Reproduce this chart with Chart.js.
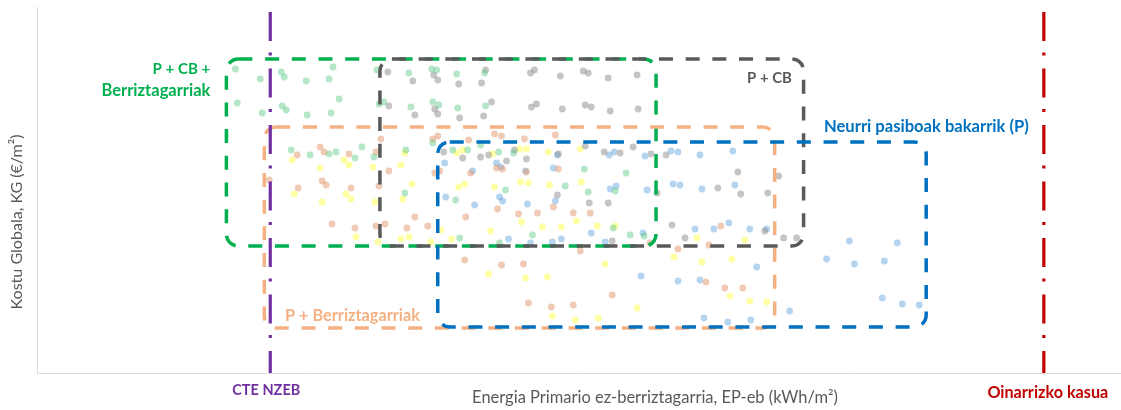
<!DOCTYPE html>
<html>
<head>
<meta charset="utf-8">
<script src="https://cdn.jsdelivr.net/npm/chart.js@4.4.1/dist/chart.umd.min.js"></script>
<style>
html,body{margin:0;padding:0;background:#fff;}
#wrap{width:1121px;height:410px;}
</style>
</head>
<body>
<div id="wrap"><canvas id="c" width="1121" height="410"></canvas></div>
<script>
// ---- Data (arbitrary units; EP on x, KG on y) ----
const greenX = [236,261,282,285,307,330,334,378,410,433,438,458,486,238,263,283,287,308,332,340,380,385,412,434,440,459,487,292,311,330,337,356,363,375,407,434,454,469,482,500,515,586,628,406,457,507,590,617,567,461,534,501,615,632,646];
const greenY = [331,321,328,323,319,321,333,330,327,331,330,326,327,297,287,294,290,285,287,301,296,298,293,298,295,292,294,250,245,246,248,242,253,243,250,257,250,250,255,248,247,231,227,207,200,210,208,209,214,162,165,157,172,165,164];

const grayX = [389,414,435,439,460,483,487,532,536,562,585,590,610,639,390,416,436,439,461,485,493,533,538,564,587,593,612,640,445,464,482,490,508,516,528,560,587,606,622,635,653,668,740,781,720,743,770,559,659,591,610,674,687,614,767,786,799];
const grayY = [328,319,325,320,316,317,330,327,330,324,329,327,322,325,294,285,291,286,282,284,298,293,296,291,295,293,289,291,248,242,243,245,239,250,241,246,254,248,247,253,246,245,228,224,212,206,207,205,207,197,197,175,162,159,169,162,162];

const orangeX = [298,321,325,350,377,382,390,270,299,323,327,352,434,439,470,496,503,526,557,441,436,472,498,504,528,560,380,333,356,377,386,408,416,429,467,499,520,539,555,575,592,466,503,525,582,530,553,575,614,723,711,680,652,708,727,745];
const orangeY = [245,253,248,246,248,261,229,220,212,219,215,212,261,264,260,266,264,261,265,229,227,227,232,231,228,231,214,176,172,174,176,172,183,174,183,191,186,187,193,187,187,140,135,136,149,97,93,95,105,174,155,151,157,118,112,112];

const yellowX = [293,321,345,350,374,406,402,413,295,347,323,352,376,404,357,379,402,410,458,464,494,521,528,550,582,460,466,496,522,530,551,583,432,442,453,492,523,544,563,578,599,617,490,527,549,607,554,577,600,639,699,676,704,734,747,732,752,769];
const yellowY = [240,232,240,235,233,247,235,216,206,206,198,201,198,201,163,158,161,163,247,250,246,251,251,248,251,213,216,213,218,217,215,218,158,170,161,169,178,173,173,179,174,174,126,122,123,136,84,80,82,92,162,143,138,141,160,104,99,98];

const blueX = [446,474,498,502,527,555,559,611,616,647,673,680,702,735,447,476,501,504,529,557,618,612,649,675,682,704,737,510,532,554,563,593,607,645,697,716,731,752,769,643,680,702,759,706,730,753,792,852,900,829,857,887,885,905,922];
const blueY = [237,229,237,233,229,232,245,245,248,244,249,248,245,249,203,195,203,199,196,199,214,211,210,216,215,211,215,161,157,158,161,167,158,167,171,171,177,171,171,124,119,120,133,82,78,80,89,159,157,141,136,139,102,96,95];

// Reference lines (EP values) and their vertical extent
const refNames = ["CTE NZEB", "Oinarrizko kasua"];
const refX = [271, 1047];
const refTopY = 388;
const refBottomY = 27;

// Scenario boxes (EP range, KG range)
const boxNames  = ["P + CB + Berriztagarriak", "P + CB", "P + Berriztagarriak", "Neurri pasiboak bakarrik (P)"];
const boxXMin   = [227, 381, 265, 439];
const boxXMax   = [658, 806, 777, 929];
const boxYMax   = [341, 341, 273, 258];
const boxYMin   = [154, 154, 72, 73];

// Axis titles
const xTitle = "Energia Primario ez-berriztagarria, EP-eb (kWh/m²)";
const yTitle = "Kostu Globala, KG (€/m²)";

// ---- Styling ----
const C = {
  green: '#00B050', gray: '#595959', orange: '#F4B183', blue: '#0070C0',
  purple: '#7030A0', red: '#C00000', axis: '#D9D9D9', text: '#595959'
};
const boxColors = [C.green, C.gray, C.orange, C.blue];
const FONT = 'Lato, "Open Sans", sans-serif';

function pts(xs, ys){ return xs.map((x,i)=>({x:x, y:ys[i]})); }
function scatterDs(label, xs, ys, color){
  return { type:'scatter', label, data: pts(xs,ys), backgroundColor: color, borderWidth:0,
           pointRadius:3.4, pointHoverRadius:3.4 };
}
function refDs(i, color){
  return { type:'line', label: refNames[i],
    data:[{x:refX[i], y:refTopY},{x:refX[i], y:refBottomY}],
    borderColor: color, borderWidth:3.2, borderDash:[29,11.5,3,13], pointRadius:0, fill:false,
    borderCapStyle:'butt' };
}

function fitFont(ctx, text, weight, target){
  let s = 14;
  ctx.font = weight + ' ' + s + 'px ' + FONT;
  const w = ctx.measureText(text).width;
  s = s * target / w;
  return weight + ' ' + s.toFixed(2) + 'px ' + FONT;
}
function txt(ctx, text, x, y, color, weight, width, align){
  ctx.save();
  ctx.font = fitFont(ctx, text, weight, width);
  ctx.fillStyle = color;
  ctx.textAlign = align || 'left';
  ctx.textBaseline = 'middle';
  ctx.fillText(text, x, y);
  ctx.restore();
}

const overlay = {
  id:'overlay',
  afterDatasetDraw(chart, args){
    if (args.index !== 2) return;
    const ctx = chart.ctx, xs = chart.scales.x, ys = chart.scales.y;
    for (let i=0;i<boxNames.length;i++){
      const l = xs.getPixelForValue(boxXMin[i]), r = xs.getPixelForValue(boxXMax[i]);
      const t = ys.getPixelForValue(boxYMax[i]), b = ys.getPixelForValue(boxYMin[i]);
      ctx.save();
      ctx.strokeStyle = boxColors[i];
      ctx.lineWidth = 3.5;
      ctx.setLineDash([14,12.7]);
      ctx.beginPath();
      ctx.roundRect(l, t, r-l, b-t, 12);
      ctx.stroke();
      ctx.restore();
    }
  },
  beforeDatasetsDraw(chart){
    const ctx = chart.ctx, a = chart.chartArea;
    ctx.save();
    ctx.strokeStyle = C.axis; ctx.lineWidth = 1;
    ctx.beginPath();
    ctx.moveTo(a.left+0.5, 7); ctx.lineTo(a.left+0.5, a.bottom+0.5);
    ctx.lineTo(1121, a.bottom+0.5);
    ctx.stroke();
    ctx.restore();
  },
  afterDraw(chart){
    const ctx = chart.ctx, xs = chart.scales.x;
    const gL = xs.getPixelForValue(boxXMin[0]) - 16;
    txt(ctx, 'P + CB +', gL, 69, C.green, 'bold', 58, 'right');
    txt(ctx, 'Berriztagarriak', gL, 91, C.green, 'bold', 109, 'right');
    txt(ctx, 'P + CB', 747, 78, C.gray, 'bold', 45, 'left');
    txt(ctx, 'Neurri pasiboak bakarrik (P)', 824, 127, C.blue, 'bold', 205, 'left');
    txt(ctx, 'P + Berriztagarriak', 285, 316, C.orange, 'bold', 135, 'left');
    txt(ctx, refNames[0], xs.getPixelForValue(refX[0]) - 4, 390, C.purple, 'bold', 68, 'center');
    txt(ctx, refNames[1], xs.getPixelForValue(refX[1]) + 4, 393, C.red, 'bold', 121, 'center');
    txt(ctx, xTitle, 655, 398, C.text, 'normal', 366, 'center');
    ctx.save();
    ctx.translate(17, 222);
    ctx.rotate(-Math.PI/2);
    txt(ctx, yTitle, 0, 0, C.text, 'normal', 175, 'center');
    ctx.restore();
  }
};

new Chart(document.getElementById('c'), {
  data: {
    datasets: [
      refDs(0, C.purple),
      refDs(1, C.red),
      scatterDs('P + CB + Berriztagarriak', greenX, greenY, 'rgba(90,200,130,0.45)'),
      scatterDs('P + CB', grayX, grayY, 'rgba(140,140,140,0.5)'),
      scatterDs('P + Berriztagarriak', orangeX, orangeY, 'rgba(225,150,105,0.5)'),
      scatterDs('Neurri pasiboak bakarrik (P)', blueX, blueY, 'rgba(90,160,220,0.45)'),
      scatterDs('P + Berriztagarriak (2)', yellowX, yellowY, 'rgba(255,255,90,0.55)')
    ]
  },
  options: {
    responsive:false, animation:false,
    layout:{ padding:{ left:37, right:0, top:5, bottom:37 } },
    plugins:{ legend:{display:false}, tooltip:{enabled:false} },
    scales:{
      x:{ type:'linear', min:37, max:1121, display:false },
      y:{ type:'linear', min:27, max:395, display:false }
    }
  },
  plugins:[overlay]
});
</script>
</body>
</html>
